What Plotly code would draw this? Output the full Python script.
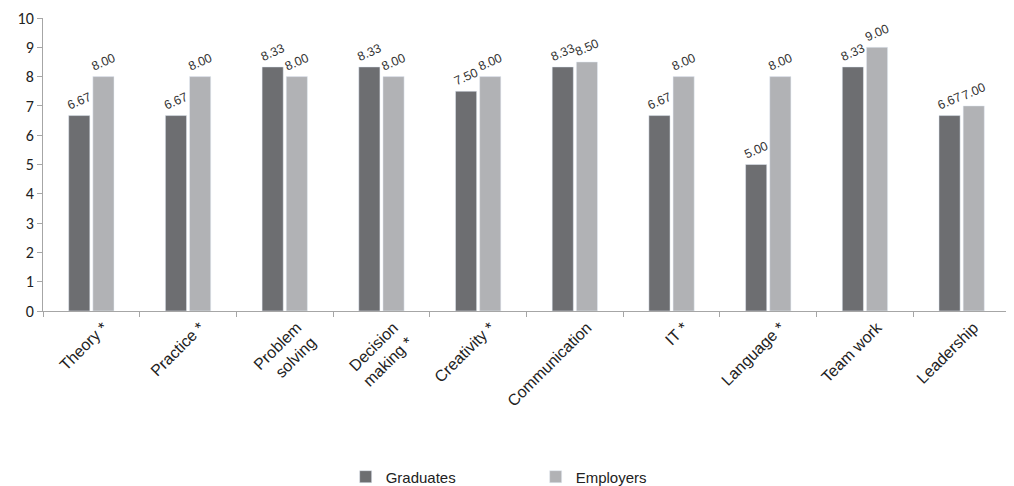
import plotly.graph_objects as go

categories = ["Theory *", "Practice *", "Problem<br>solving", "Decision<br>making *",
              "Creativity *", "Communication", "IT *", "Language *", "Team work", "Leadership"]
graduates = [6.67, 6.67, 8.33, 8.33, 7.50, 8.33, 6.67, 5.00, 8.33, 6.67]
employers = [8.00, 8.00, 8.00, 8.00, 8.00, 8.50, 8.00, 8.00, 9.00, 7.00]

fig = go.Figure()
fig.add_bar(name="Graduates", x=categories, y=graduates, marker_color="#6d6e71",
            text=[f"{v:.2f}" for v in graduates], textposition="outside", textangle=-24,
            cliponaxis=False, textfont=dict(size=12.5, color="#333333"))
fig.add_bar(name="Employers", x=categories, y=employers, marker_color="#b1b2b5",
            text=[f"{v:.2f}" for v in employers], textposition="outside", textangle=-24,
            cliponaxis=False, textfont=dict(size=12.5, color="#333333"))

# page body has an 8px margin: figure is sized/offset to compensate
fig.update_layout(
    width=1006, height=478,
    margin=dict(l=35, r=4, t=10, b=175, autoexpand=False),
    plot_bgcolor="white", paper_bgcolor="white",
    barmode="group", bargap=0.5, bargroupgap=0.125,
    font=dict(family="Liberation Sans, Arial", size=16, color="#222222"),
    showlegend=True,
    legend=dict(orientation="h", x=0.313, xanchor="left", y=-0.51, yanchor="top",
                font=dict(size=15), entrywidth=145, entrywidthmode="pixels",
                itemwidth=30),
    uniformtext=dict(minsize=12.5, mode="show"),
)
fig.update_yaxes(range=[0, 10], dtick=1, showgrid=False, showline=True, linecolor="#a6a6a6",
                 ticks="outside", ticklen=5, tickcolor="#a6a6a6",
                 tickfont=dict(size=16, family="Carlito, Liberation Sans"),
                 zeroline=False, automargin=False)
fig.update_xaxes(showline=True, linecolor="#a6a6a6", ticks="outside", ticklen=5,
                 tickcolor="#a6a6a6", tickson="boundaries", tickangle=-45,
                 tickfont=dict(size=16), automargin=False, ticklabelshift=12)

fig.write_html("out.html")
